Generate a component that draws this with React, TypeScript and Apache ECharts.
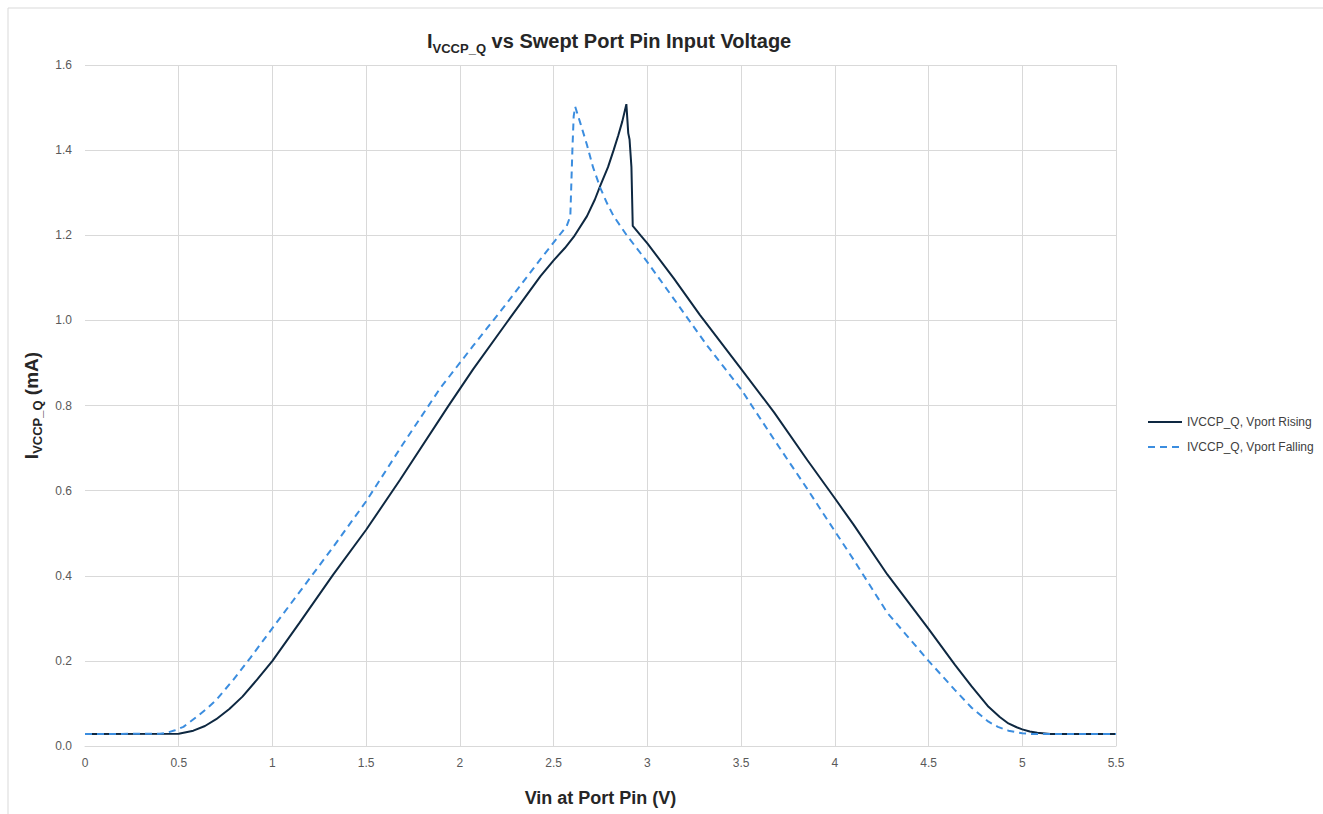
import React, { useEffect, useRef } from "react";
import * as echarts from "echarts";

const xTicks = ["0", "0.5", "1", "1.5", "2", "2.5", "3", "3.5", "4", "4.5", "5", "5.5"];

const risingX = [0, 0.5, 0.578, 0.64, 0.7, 0.77, 0.84, 0.92, 1.0, 1.145, 1.323, 1.5, 1.68, 1.937, 2.07, 2.25, 2.43, 2.5, 2.56, 2.607, 2.678, 2.72, 2.75, 2.79, 2.82, 2.845, 2.866, 2.888, 2.898, 2.905, 2.915, 2.922, 2.965, 3.0, 3.142, 3.28, 3.5, 3.676, 3.853, 4.0, 4.1, 4.28, 4.5, 4.64, 4.73, 4.82, 4.88, 4.926, 4.97, 5.0, 5.04, 5.08, 5.15, 5.5];
const risingY = [0.028, 0.029, 0.036, 0.047, 0.063, 0.087, 0.116, 0.157, 0.2, 0.29, 0.402, 0.508, 0.625, 0.798, 0.885, 0.995, 1.104, 1.141, 1.17, 1.196, 1.245, 1.284, 1.318, 1.36, 1.4, 1.435, 1.467, 1.508, 1.44, 1.425, 1.36, 1.222, 1.199, 1.181, 1.098, 1.013, 0.886, 0.784, 0.672, 0.582, 0.52, 0.403, 0.275, 0.191, 0.14, 0.092, 0.068, 0.053, 0.044, 0.039, 0.034, 0.031, 0.028, 0.028];

const fallingX = [0, 0.4, 0.436, 0.48, 0.525, 0.6, 0.65, 0.7, 0.79, 0.88, 1.0, 1.145, 1.323, 1.5, 1.7, 1.894, 2.07, 2.25, 2.43, 2.57, 2.589, 2.6, 2.607, 2.615, 2.645, 2.678, 2.71, 2.75, 2.785, 2.82, 2.89, 3.0, 3.142, 3.32, 3.5, 3.676, 3.853, 3.94, 4.1, 4.28, 4.5, 4.64, 4.73, 4.82, 4.87, 4.926, 5.0, 5.05, 5.5];
const fallingY = [0.028, 0.029, 0.031, 0.037, 0.045, 0.07, 0.088, 0.108, 0.155, 0.206, 0.277, 0.362, 0.467, 0.575, 0.712, 0.84, 0.94, 1.04, 1.144, 1.222, 1.245, 1.4, 1.48, 1.502, 1.46, 1.412, 1.36, 1.31, 1.275, 1.245, 1.2, 1.137, 1.05, 0.94, 0.838, 0.72, 0.604, 0.545, 0.438, 0.313, 0.2, 0.132, 0.09, 0.057, 0.045, 0.036, 0.03, 0.028, 0.028];

const seriesNames = ["IVCCP_Q, Vport Rising", "IVCCP_Q, Vport Falling"];

export default function App() {
  const ref = useRef<HTMLDivElement>(null);
  useEffect(() => {
    if (!ref.current) return;
    const chart = echarts.init(ref.current, null, { renderer: "svg" });
    const font = "'Liberation Sans', Arial, sans-serif";
    const rising = risingX.map((x, i) => [x, risingY[i]]);
    const falling = fallingX.map((x, i) => [x, fallingY[i]]);
    chart.setOption({
      animation: false,
      backgroundColor: "#ffffff",
      textStyle: { fontFamily: font },
      title: {
        text: "{a|I}{b|VCCP_Q}{a| vs Swept Port Pin Input Voltage}",
        left: 422,
        top: 22,
        textStyle: {
          rich: {
            a: { fontSize: 20, fontWeight: "bold", color: "#262626", fontFamily: font, lineHeight: 28, verticalAlign: "middle" },
            b: { fontSize: 13, fontWeight: "bold", color: "#262626", fontFamily: font, lineHeight: 13, verticalAlign: "bottom" },
          },
        },
      },
      graphic: [
        {
          type: "rect",
          shape: { x: 8, y: 8, width: 1340, height: 840 },
          style: { fill: "none", stroke: "#d9d9d9", lineWidth: 1 },
          silent: true,
        },
      ],
      legend: {
        orient: "vertical",
        left: 1142,
        top: 411,
        itemWidth: 34,
        itemHeight: 14,
        itemGap: 13,
        textStyle: { fontSize: 12, color: "#404040", fontFamily: font },
        data: [
          { name: seriesNames[0], itemStyle: { opacity: 0 }, lineStyle: { width: 2, color: "#0e2841" } },
          { name: seriesNames[1], itemStyle: { opacity: 0 }, lineStyle: { width: 2, color: "#3b8ddf", type: [7, 5] } },
        ],
      },
      grid: { left: 85, right: 207, top: 65, bottom: 68, containLabel: false },
      xAxis: {
        type: "value",
        min: 0,
        max: 5.5,
        interval: 0.5,
        name: "Vin at Port Pin (V)",
        nameLocation: "middle",
        nameGap: 43,
        nameTextStyle: { fontSize: 18, fontWeight: "bold", color: "#262626", fontFamily: font },
        axisLine: { show: true, lineStyle: { color: "#d9d9d9", width: 1 } },
        axisTick: { show: false },
        axisLabel: {
          margin: 11,
          fontSize: 12,
          color: "#595959",
          formatter: (v: number) => xTicks[Math.round(v / 0.5)] ?? String(v),
        },
        splitLine: { show: true, showMinLine: false, lineStyle: { color: "#d9d9d9", width: 1 } },
      },
      yAxis: {
        type: "value",
        min: 0,
        max: 1.6,
        interval: 0.2,
        name: "{a|I}{b|VCCP_Q}{a| (mA)}",
        nameLocation: "middle",
        nameGap: 36,
        nameRotate: 90,
        nameTextStyle: {
          rich: {
            a: { fontSize: 19, fontWeight: "bold", color: "#262626", fontFamily: font, lineHeight: 26, verticalAlign: "middle" },
            b: { fontSize: 13, fontWeight: "bold", color: "#262626", fontFamily: font, lineHeight: 13, verticalAlign: "bottom" },
          },
        },
        axisLine: { show: false },
        axisTick: { show: false },
        axisLabel: {
          margin: 13,
          fontSize: 12,
          color: "#595959",
          formatter: (v: number) => v.toFixed(1),
        },
        splitLine: { show: true, lineStyle: { color: "#d9d9d9", width: 1 } },
      },
      series: [
        {
          name: seriesNames[0],
          type: "line",
          data: rising,
          showSymbol: false,
          symbol: "none",
          lineStyle: { color: "#0e2841", width: 2 },
          itemStyle: { color: "#0e2841" },
          z: 3,
        },
        {
          name: seriesNames[1],
          type: "line",
          data: falling,
          showSymbol: false,
          symbol: "none",
          lineStyle: { color: "#3b8ddf", width: 2, type: [7, 5] },
          itemStyle: { color: "#3b8ddf" },
          z: 4,
        },
      ],
    });
    return () => chart.dispose();
  }, []);
  return (
    <div
      ref={ref}
      style={{ position: "fixed", left: 0, top: 0, width: 1323, height: 814 }}
    />
  );
}
